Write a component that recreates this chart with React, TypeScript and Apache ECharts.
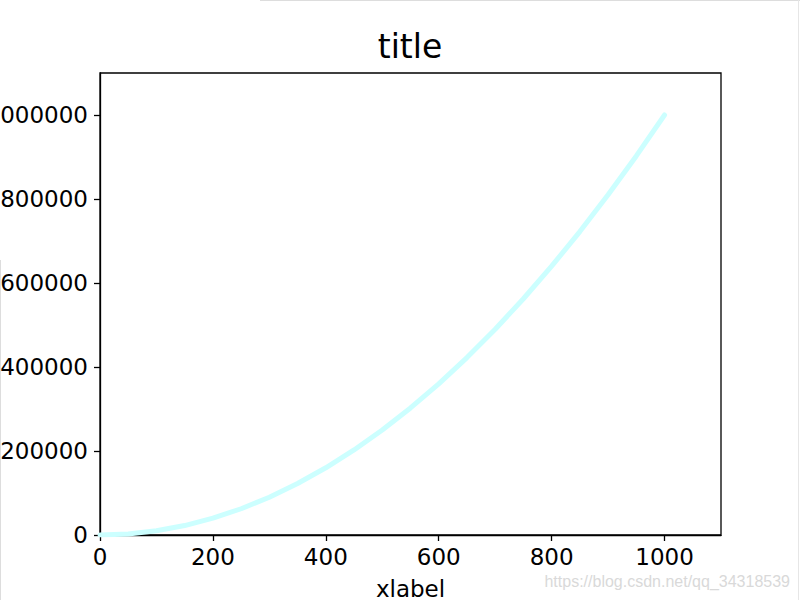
import React, { useEffect, useRef } from "react";
import * as echarts from "echarts";

const xValues = [0, 50, 100, 150, 200, 250, 300, 350, 400, 450, 500, 550, 600, 650, 700, 750, 800, 850, 900, 950, 1000];
const yValues = [0, 2500, 10000, 22500, 40000, 62500, 90000, 122500, 160000, 202500, 250000, 302500, 360000, 422500, 490000, 562500, 640000, 722500, 810000, 902500, 1000000];

const titleText = "title";
const xLabelText = "xlabel";
const watermarkText = "https://blog.csdn.net/qq_34318539";

const FONT = "DejaVu Sans";

export default function App() {
  const ref = useRef<HTMLDivElement>(null);

  useEffect(() => {
    if (!ref.current) return;
    const chart = echarts.init(ref.current, undefined, { renderer: "svg" });
    const seriesData = xValues.map((x, i) => [x, yValues[i]]);
    chart.setOption({
      animation: false,
      backgroundColor: "#ffffff",
      title: {
        text: titleText,
        left: 410,
        top: 30,
        textAlign: "center",
        padding: 0,
        textStyle: { fontFamily: FONT, fontSize: 33, fontWeight: "normal", color: "#000" },
      },
      grid: {
        left: 100,
        right: 79,
        top: 73,
        bottom: 65,
        containLabel: false,
        outerBoundsMode: "none",
        show: true,
        borderColor: "#000",
        borderWidth: 1.3,
        backgroundColor: "transparent",
      },
      xAxis: {
        type: "value",
        min: 0,
        max: 1100,
        interval: 200,
        name: xLabelText,
        nameLocation: "middle",
        nameGap: 42,
        nameTextStyle: { fontFamily: FONT, fontSize: 23, color: "#000" },
        axisLine: { show: true, lineStyle: { color: "#000", width: 1.3 } },
        axisTick: { show: true, inside: false, length: 6, lineStyle: { color: "#000", width: 1.3 } },
        axisLabel: {
          fontFamily: FONT,
          fontSize: 23,
          color: "#000",
          margin: 10,
          showMaxLabel: false,
          formatter: (v: number) => String(v),
        },
        splitLine: { show: false },
      },
      yAxis: {
        type: "value",
        min: 0,
        max: 1100000,
        interval: 200000,
        axisLine: { show: true, lineStyle: { color: "#000", width: 1.3 } },
        axisTick: { show: true, inside: false, length: 6, lineStyle: { color: "#000", width: 1.3 } },
        axisLabel: {
          fontFamily: FONT,
          fontSize: 23,
          color: "#000",
          margin: 12,
          showMaxLabel: false,
          formatter: (v: number) => String(v),
        },
        splitLine: { show: false },
      },
      series: [
        {
          type: "line",
          data: seriesData,
          showSymbol: false,
          symbol: "none",
          smooth: false,
          lineStyle: { color: "#ccffff", width: 5, cap: "round", join: "round" },
        },
      ],
      graphic: [
        {
          type: "line",
          shape: { x1: 260, y1: 0.5, x2: 800, y2: 0.5 },
          style: { stroke: "#dddddd", lineWidth: 1 },
        },
        {
          type: "line",
          shape: { x1: 0.5, y1: 260, x2: 0.5, y2: 600 },
          style: { stroke: "#dddddd", lineWidth: 1 },
        },
        {
          type: "line",
          shape: { x1: 798.5, y1: 0, x2: 798.5, y2: 600 },
          style: { stroke: "#e6e6e6", lineWidth: 1 },
        },
        {
          type: "text",
          right: 10,
          top: 573,
          style: {
            text: watermarkText,
            fontFamily: "Liberation Sans",
            fontSize: 16,
            fill: "#d9d9d9",
          },
        },
      ],
    });
    return () => chart.dispose();
  }, []);

  return (
    <div
      ref={ref}
      style={{ position: "fixed", left: 0, top: 0, width: 800, height: 600, background: "#fff" }}
    />
  );
}
